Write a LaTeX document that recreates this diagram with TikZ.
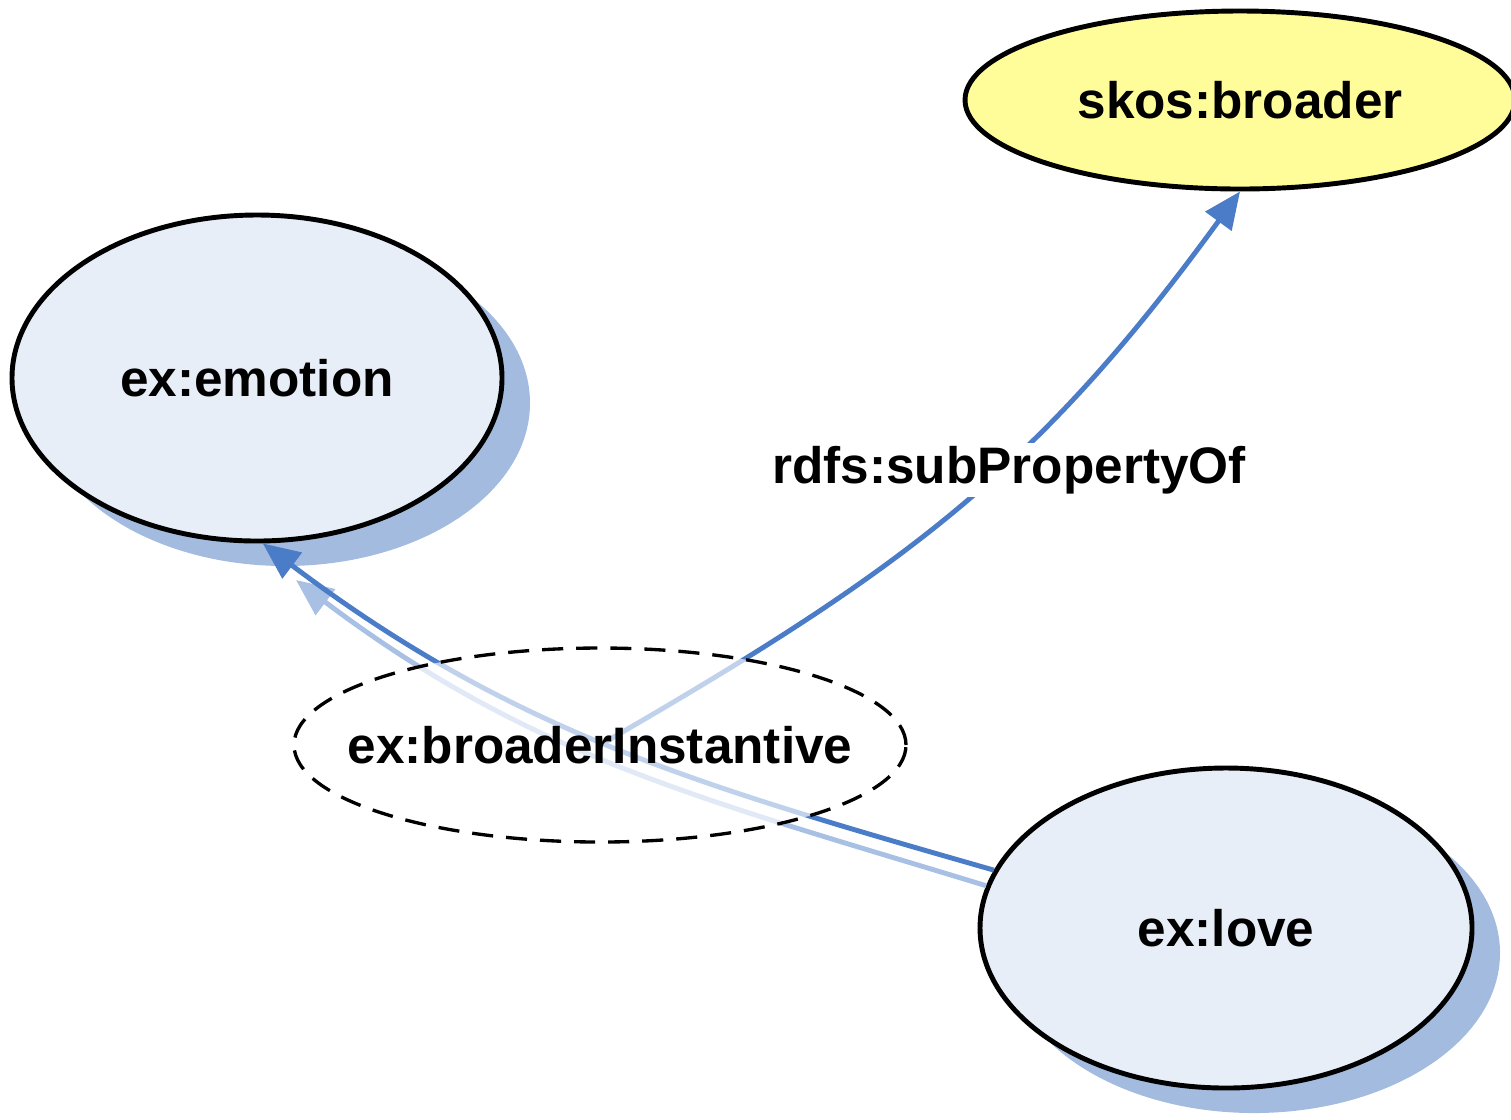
\documentclass[tikz,border=0pt]{standalone}
\usepackage{fontspec}
\setmainfont{Liberation Sans}
\usetikzlibrary{shapes.geometric,arrows.meta,shadows}

\definecolor{edgeblue}{RGB}{74,124,199}
\definecolor{paleblue}{RGB}{168,192,228}
\definecolor{shadeblue}{RGB}{163,187,223}
\definecolor{conceptfill}{RGB}{232,238,248}
\definecolor{skosyellow}{RGB}{255,253,153}

\pgfdeclarelayer{edges}
\pgfdeclarelayer{front}
\pgfsetlayers{main,edges,front}

\tikzset{
  labelfont/.style={font=\bfseries\fontsize{14.6}{17}\selectfont},
  concept/.style={ellipse, draw=black, line width=1.4pt, fill=conceptfill, inner sep=0pt, labelfont,
    drop shadow={shadow xshift=0.28cm, shadow yshift=-0.25cm, fill=shadeblue, opacity=1}},
  property/.style={ellipse, draw=black, line width=1.4pt, fill=skosyellow, inner sep=0pt, labelfont},
  statement/.style={ellipse, draw=black, line width=0.95pt, dash pattern=on 6pt off 3.7pt,
    fill=white, fill opacity=0.65, text opacity=1, inner ysep=0pt, inner xsep=-0.37cm, labelfont},
  link/.style={draw=edgeblue, line width=1.4pt, -{Triangle[length=10.5pt,width=9pt]}},
  palelink/.style={draw=paleblue, line width=1.4pt, -{Triangle[length=10.5pt,width=9pt]}}
}

\begin{document}
\begin{tikzpicture}
        \useasboundingbox (0,0) rectangle (15.11,-11.19);
        \node[concept, minimum width=4.9cm, minimum height=3.26cm] (emotion) at (2.57,-3.78) {ex:emotion};
        \node[concept, minimum width=4.92cm, minimum height=3.2cm] (love) at (12.26,-9.28) {ex:love};
        \node[property, minimum width=5.5cm, minimum height=1.78cm] (broader) at (12.40,-1.00) {skos:broader};
        \coordinate (emoshade) at (2.96,-5.80);
        \begin{pgfonlayer}{front}
          \node[statement, minimum width=6.12cm, minimum height=1.94cm] (inst) at (6.00,-7.45) {ex:broaderInstantive};
        \end{pgfonlayer}
        \begin{pgfonlayer}{edges}
          \draw[palelink] (love.170) to[out=163,in=-37] (emoshade);
          \draw[link] (love.166) to[out=164,in=-37] (emotion.272);
          \draw[link] (inst.center) to[out=30,in=234,looseness=1.05] (broader.south);
          \node[fill=white, inner sep=1pt, labelfont] (subprop) at (10.09,-4.70) {rdfs:subPropertyOf};
        \end{pgfonlayer}
      \end{tikzpicture}
\end{document}
